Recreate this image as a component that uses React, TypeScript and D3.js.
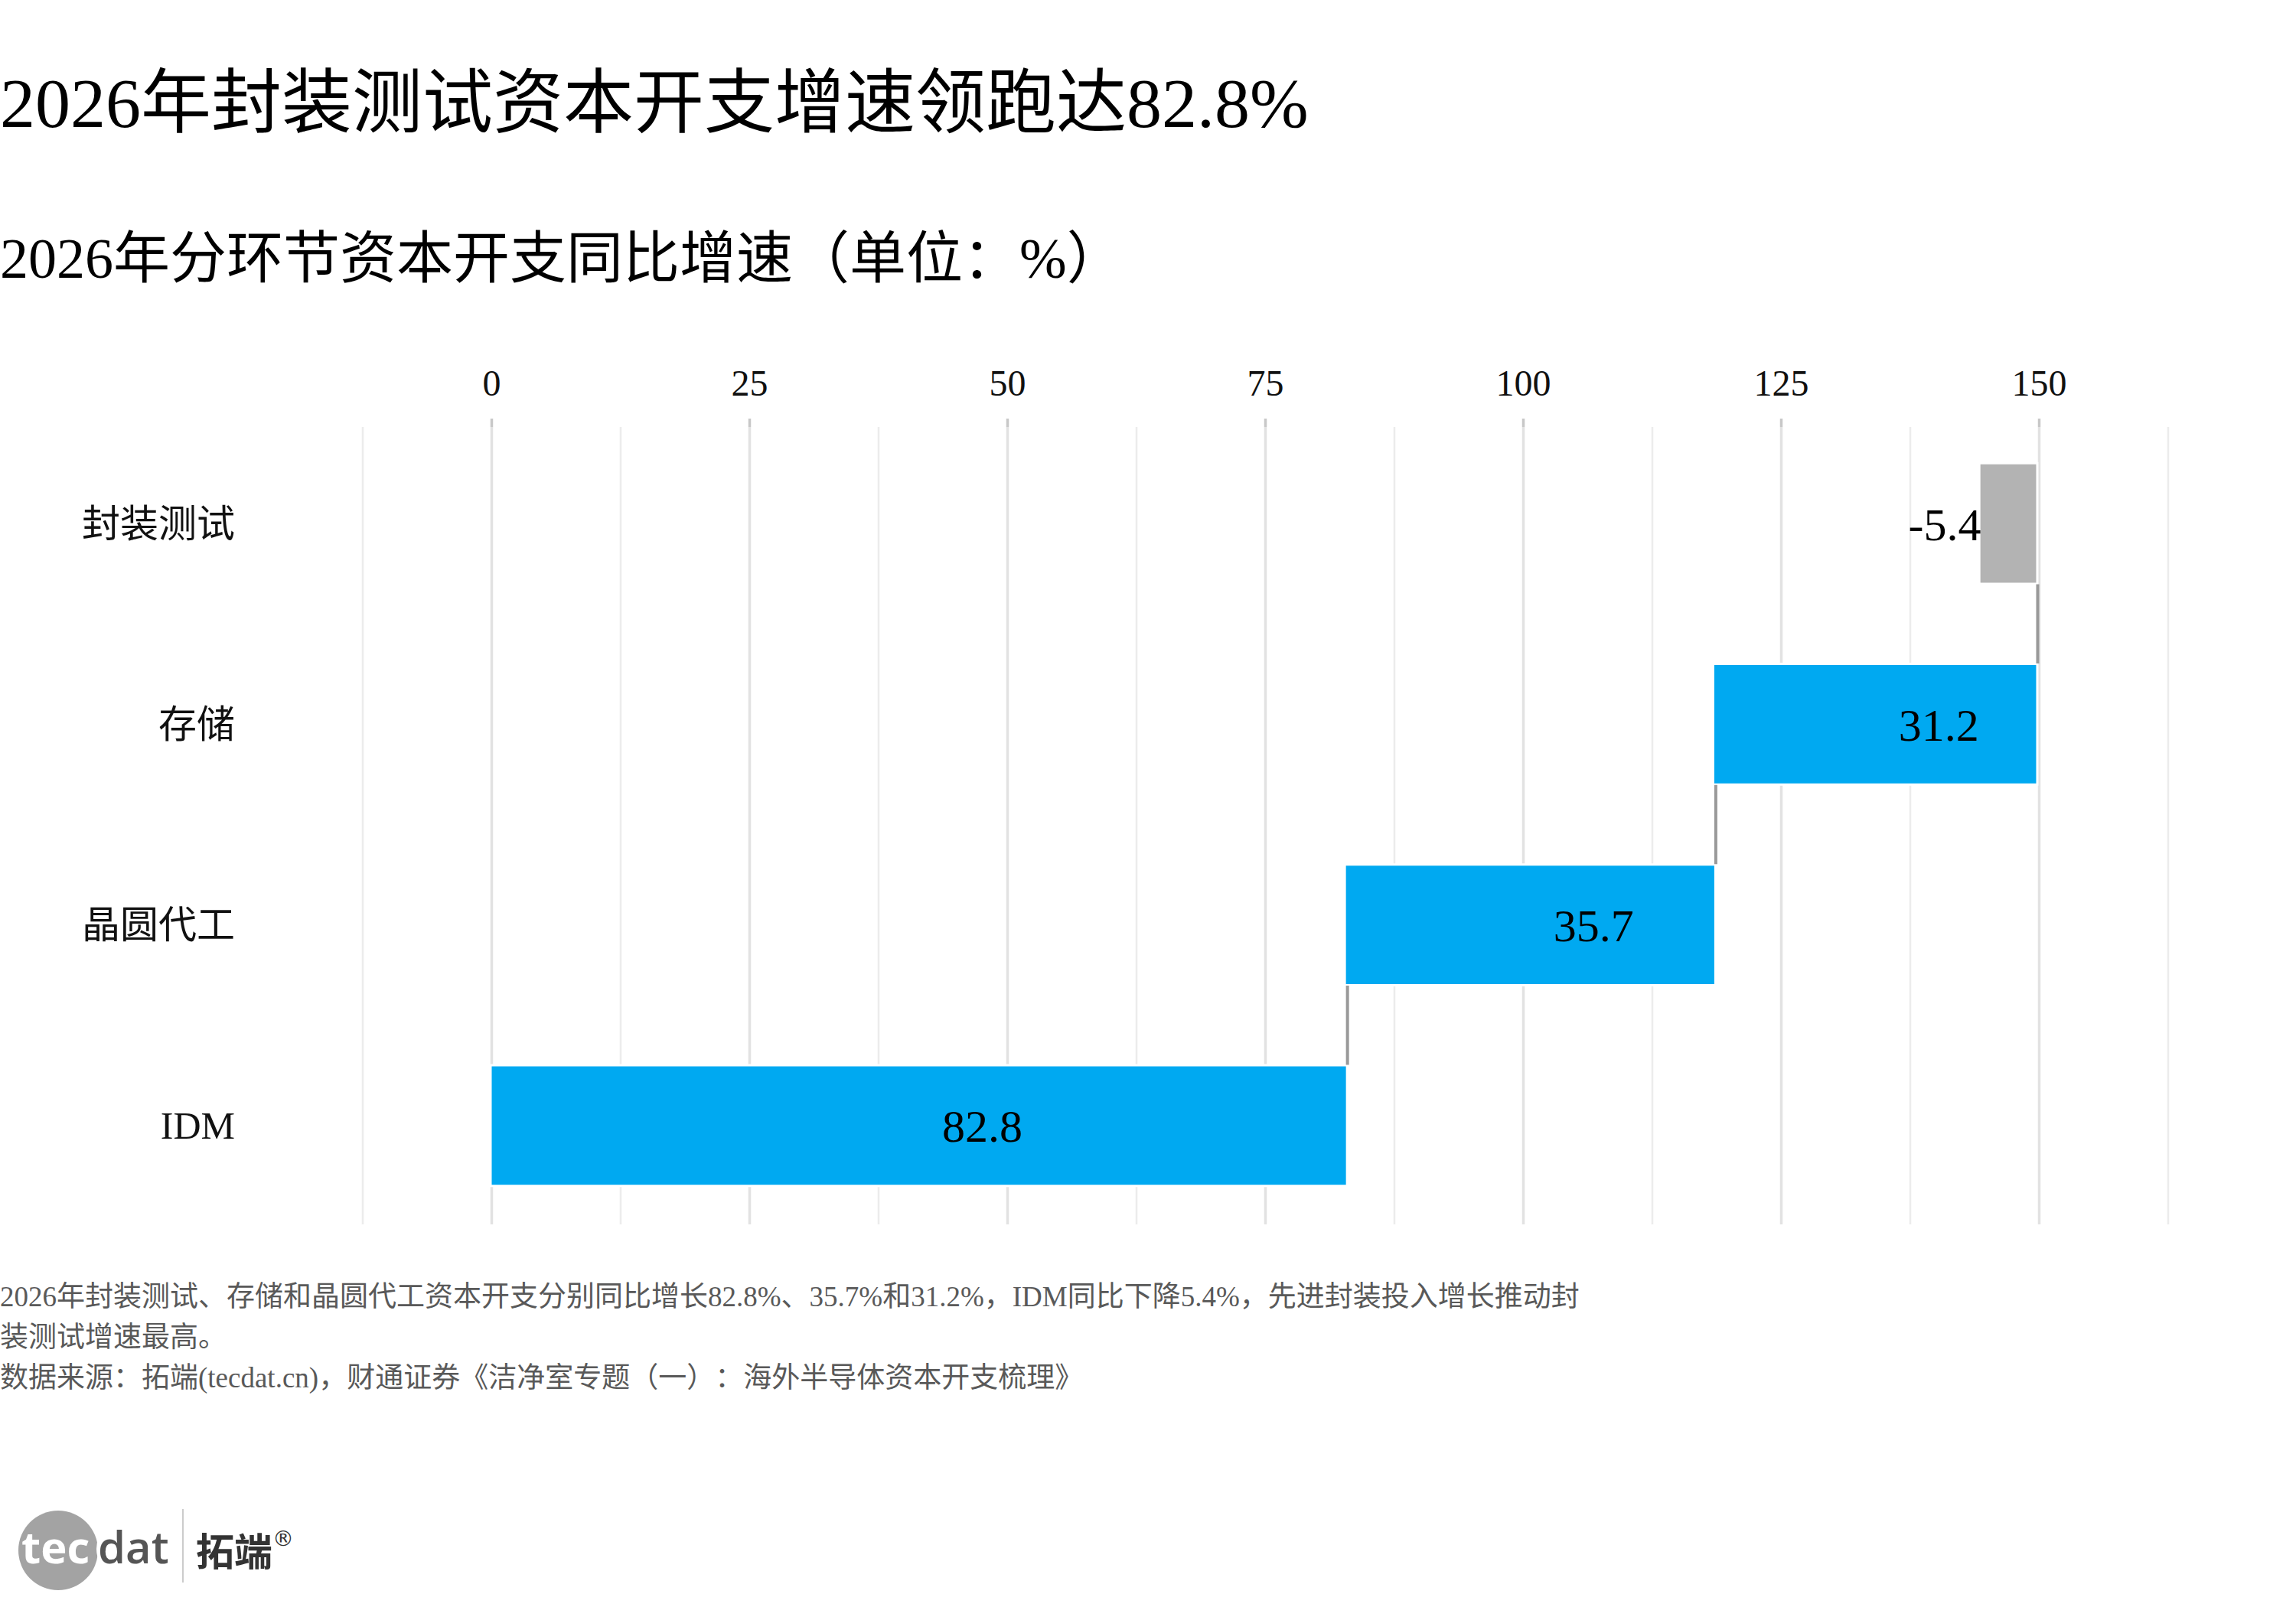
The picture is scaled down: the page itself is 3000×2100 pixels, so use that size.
import * as d3 from "d3";
import React, { useEffect, useRef } from "react";

// data (top to bottom as shown)
const categories = ["封装测试", "存储", "晶圆代工", "IDM"];
const values = [-5.4, 31.2, 35.7, 82.8];
const xTicks = [0, 25, 50, 75, 100, 125, 150];

const title = "2026年封装测试资本开支增速领跑达82.8%";
const subtitle = "2026年分环节资本开支同比增速（单位：%）";
const notes = [
  "2026年封装测试、存储和晶圆代工资本开支分别同比增长82.8%、35.7%和31.2%，IDM同比下降5.4%，先进封装投入增长推动封",
  "装测试增速最高。",
  "数据来源：拓端(tecdat.cn)，财通证券《洁净室专题（一）：海外半导体资本开支梳理》",
];

const FONT = '"Liberation Serif", "Noto Sans CJK SC", serif';
const BLUE = "#00A9F1";
const GREY = "#B3B3B3";

const App: React.FC = () => {
  const ref = useRef<SVGSVGElement>(null);

  useEffect(() => {
    if (!ref.current) return;
    const svg = d3.select(ref.current);
    svg.selectAll("*").remove();

    const width = 3000,
      height = 2100;

    svg.append("rect").attr("width", width).attr("height", height).attr("fill", "#fff");

    // waterfall: accumulate from the bottom row upward
    const n = categories.length;
    const rows = categories.map((c, i) => ({ cat: c, value: values[i], start: 0, end: 0 }));
    let acc = 0;
    for (let i = n - 1; i >= 0; i--) {
      rows[i].start = acc;
      acc += rows[i].value;
      rows[i].end = acc;
    }

    const x = d3.scaleLinear().domain([-12.5, 162.5]).range([474, 2833]);
    const y = d3
      .scaleBand<string>()
      .domain(categories)
      .range([553, 1602])
      .paddingInner(0.41)
      .paddingOuter(0.205);

    const gridTop = 558,
      gridBottom = 1600;

    // titles
    svg
      .append("text")
      .attr("x", 0)
      .attr("y", 166)
      .style("font-family", FONT)
      .style("font-size", "92px")
      .attr("fill", "#000")
      .text(title);

    svg
      .append("text")
      .attr("x", 0)
      .attr("y", 363)
      .style("font-family", FONT)
      .style("font-size", "74px")
      .attr("fill", "#000")
      .text(subtitle);

    // minor grid
    const minor = d3.range(-12.5, 175, 25);
    svg
      .append("g")
      .selectAll("line")
      .data(minor)
      .join("line")
      .attr("x1", (d) => x(d))
      .attr("x2", (d) => x(d))
      .attr("y1", gridTop)
      .attr("y2", gridBottom)
      .attr("stroke", "#ececec")
      .attr("stroke-width", 2.5);

    // major grid + ticks
    const major = svg.append("g");
    major
      .selectAll("line.grid")
      .data(xTicks)
      .join("line")
      .attr("class", "grid")
      .attr("x1", (d) => x(d))
      .attr("x2", (d) => x(d))
      .attr("y1", gridTop)
      .attr("y2", gridBottom)
      .attr("stroke", "#e2e2e2")
      .attr("stroke-width", 3.5);
    major
      .selectAll("line.tick")
      .data(xTicks)
      .join("line")
      .attr("class", "tick")
      .attr("x1", (d) => x(d))
      .attr("x2", (d) => x(d))
      .attr("y1", 547)
      .attr("y2", gridTop)
      .attr("stroke", "#c8c8c8")
      .attr("stroke-width", 3.5);
    major
      .selectAll("text")
      .data(xTicks)
      .join("text")
      .attr("x", (d) => x(d))
      .attr("y", 517)
      .attr("text-anchor", "middle")
      .style("font-family", FONT)
      .style("font-size", "48px")
      .attr("fill", "#111")
      .text((d) => d);

    // bars
    svg
      .append("g")
      .selectAll("rect")
      .data(rows)
      .join("rect")
      .attr("x", (d) => x(Math.min(d.start, d.end)))
      .attr("y", (d) => y(d.cat)!)
      .attr("width", (d) => Math.abs(x(d.end) - x(d.start)))
      .attr("height", y.bandwidth())
      .attr("fill", (d) => (d.value < 0 ? GREY : BLUE))
      .attr("stroke", "#fff")
      .attr("stroke-width", 6)
      .attr("paint-order", "stroke");

    // connectors
    svg
      .append("g")
      .selectAll("line")
      .data(rows.slice(1))
      .join("line")
      .attr("x1", (d) => x(d.end) + 2)
      .attr("x2", (d) => x(d.end) + 2)
      .attr("y1", (d, i) => y(rows[i].cat)! + y.bandwidth() + 2)
      .attr("y2", (d) => y(d.cat)! - 2)
      .attr("stroke", "#999")
      .attr("stroke-width", 4);

    // value labels
    const fmt = (v: number) => v.toFixed(1);
    svg
      .append("g")
      .selectAll("text")
      .data(rows)
      .join("text")
      .attr("x", (d) => x((d.start + d.end) / 2) + (d.value < 0 ? -83 : 83))
      .attr("y", (d) => y(d.cat)! + y.bandwidth() / 2)
      .attr("dy", "0.36em")
      .attr("text-anchor", "middle")
      .style("font-family", FONT)
      .style("font-size", "60px")
      .attr("fill", "#000")
      .text((d) => fmt(d.value));

    // category labels
    svg
      .append("g")
      .selectAll("text")
      .data(categories)
      .join("text")
      .attr("x", 307)
      .attr("y", (d) => y(d)! + y.bandwidth() / 2)
      .attr("dy", "0.35em")
      .attr("text-anchor", "end")
      .style("font-family", FONT)
      .style("font-size", "50px")
      .attr("fill", "#111")
      .text((d) => d);

    // notes
    svg
      .append("g")
      .selectAll("text")
      .data(notes)
      .join("text")
      .attr("x", 0)
      .attr("y", (d, i) => 1707 + i * 53)
      .style("font-family", FONT)
      .style("font-size", "37px")
      .attr("fill", "#595959")
      .text((d) => d);

    // logo
    const logo = svg.append("g");
    logo.append("circle").attr("cx", 76).attr("cy", 2026).attr("r", 52).attr("fill", "#a3a3a3");
    logo.append("circle").attr("cx", 166).attr("cy", 2024).attr("r", 40).attr("fill", "#fff");
    logo
      .append("text")
      .attr("x", 28)
      .attr("y", 2043)
      .style("font-family", '"Open Sans", sans-serif')
      .style("font-weight", 700)
      .style("font-size", "58px")
      .attr("fill", "#fff")
      .text("tec");
    logo
      .append("text")
      .attr("x", 128)
      .attr("y", 2043)
      .style("font-family", '"Open Sans", sans-serif')
      .style("font-weight", 600)
      .style("font-size", "58px")
      .attr("fill", "#555")
      .text("dat");
    logo
      .append("line")
      .attr("x1", 239)
      .attr("x2", 239)
      .attr("y1", 1972)
      .attr("y2", 2068)
      .attr("stroke", "#ccc")
      .attr("stroke-width", 2);
    logo
      .append("text")
      .attr("x", 256)
      .attr("y", 2046)
      .style("font-family", '"Noto Sans CJK SC", sans-serif')
      .style("font-weight", 700)
      .style("font-size", "50px")
      .attr("fill", "#333")
      .text("拓端");
    logo
      .append("text")
      .attr("x", 356)
      .attr("y", 2020)
      .style("font-family", '"DejaVu Sans", sans-serif')
      .style("font-size", "28px")
      .attr("fill", "#333")
      .text("®");
  }, []);

  return (
    <svg
      ref={ref}
      width={3000}
      height={2100}
      style={{
        position: "absolute",
        left: 0,
        top: 0,
        display: "block",
        textSpacingTrim: "space-all",
      } as React.CSSProperties}
    />
  );
};

export default App;
